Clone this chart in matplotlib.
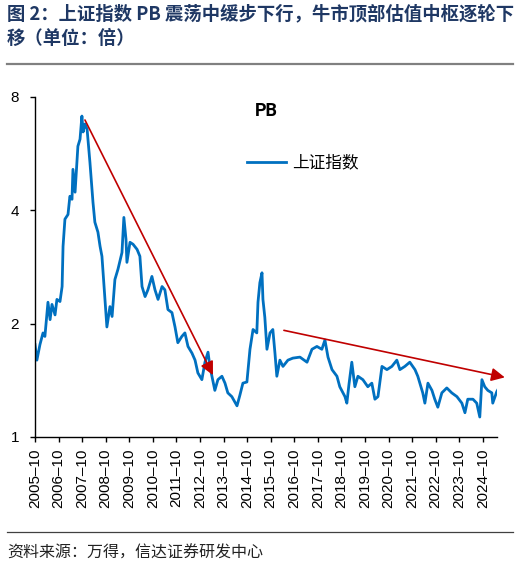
"""SSE Composite PB, 2005-10 to 2025, log2 scale, with trend arrows."""

import matplotlib
matplotlib.use("Agg")
import matplotlib.pyplot as plt
from matplotlib.lines import Line2D

plt.rcParams["font.family"] = ["Liberation Sans", "Noto Sans CJK SC", "DejaVu Sans"]

# decimal year, PB (x)
years = [
    2005.75, 2005.83, 2005.96, 2006.09, 2006.17, 2006.30, 2006.39, 2006.47, 2006.60, 2006.68,
    2006.81, 2006.90, 2006.94, 2007.02, 2007.15, 2007.23, 2007.32, 2007.36, 2007.45, 2007.57,
    2007.66, 2007.74, 2007.79, 2007.87, 2007.96, 2008.08, 2008.21, 2008.29, 2008.42, 2008.51,
    2008.59, 2008.72, 2008.80, 2008.93, 2009.02, 2009.14, 2009.27, 2009.44, 2009.52, 2009.61,
    2009.65, 2009.78, 2009.91, 2010.08, 2010.20, 2010.29, 2010.42, 2010.54, 2010.71, 2010.84,
    2010.97, 2011.14, 2011.26, 2011.39, 2011.56, 2011.69, 2011.81, 2011.98, 2012.11, 2012.24,
    2012.41, 2012.54, 2012.66, 2012.83, 2012.96, 2013.09, 2013.17, 2013.38, 2013.51, 2013.68,
    2013.81, 2013.93, 2014.10, 2014.32, 2014.44, 2014.57, 2014.74, 2014.87, 2015.00, 2015.16,
    2015.21, 2015.29, 2015.38, 2015.42, 2015.50, 2015.59, 2015.72, 2015.84, 2015.93, 2016.01,
    2016.14, 2016.27, 2016.48, 2016.69, 2016.99, 2017.29, 2017.50, 2017.71, 2017.92, 2018.05,
    2018.18, 2018.35, 2018.56, 2018.68, 2018.90, 2018.98, 2019.07, 2019.19, 2019.32, 2019.45,
    2019.66, 2019.87, 2020.04, 2020.17, 2020.30, 2020.47, 2020.68, 2020.89, 2021.10, 2021.23,
    2021.44, 2021.65, 2021.87, 2021.99, 2022.20, 2022.29, 2022.42, 2022.59, 2022.71, 2022.84,
    2023.01, 2023.22, 2023.43, 2023.65, 2023.86, 2023.99, 2024.11, 2024.33, 2024.49, 2024.62,
    2024.71, 2024.83, 2024.96, 2025.13, 2025.17, 2025.34, 2025.43,
]
pb = [
    1.76, 1.60, 1.76, 1.89, 1.85, 2.28, 2.05, 2.25, 2.11, 2.32,
    2.29, 2.51, 3.21, 3.79, 3.90, 4.36, 4.28, 5.14, 4.47, 5.92,
    6.18, 7.12, 6.46, 6.78, 6.57, 5.37, 4.20, 3.72, 3.50, 3.21,
    3.02, 2.32, 1.96, 2.22, 2.09, 2.62, 2.79, 3.09, 3.83, 3.35,
    2.91, 3.29, 3.25, 3.15, 3.02, 2.51, 2.36, 2.46, 2.67, 2.46,
    2.32, 2.51, 2.46, 2.18, 2.14, 1.96, 1.78, 1.85, 1.89, 1.74,
    1.67, 1.60, 1.48, 1.42, 1.58, 1.68, 1.54, 1.33, 1.42, 1.45,
    1.39, 1.31, 1.28, 1.21, 1.29, 1.39, 1.40, 1.71, 1.93, 1.89,
    2.28, 2.57, 2.73, 2.32, 2.08, 1.71, 1.89, 1.93, 1.67, 1.45,
    1.60, 1.54, 1.60, 1.62, 1.63, 1.58, 1.71, 1.74, 1.71, 1.81,
    1.63, 1.51, 1.45, 1.36, 1.28, 1.23, 1.38, 1.58, 1.36, 1.45,
    1.42, 1.36, 1.39, 1.26, 1.28, 1.54, 1.51, 1.54, 1.60, 1.51,
    1.54, 1.58, 1.51, 1.45, 1.31, 1.23, 1.39, 1.33, 1.26, 1.20,
    1.31, 1.35, 1.31, 1.28, 1.23, 1.16, 1.26, 1.26, 1.23, 1.13,
    1.42, 1.36, 1.33, 1.31, 1.23, 1.32, 1.35,
]

tick_years = list(range(2005, 2025))
tick_labels = [f"{y}\u201310" for y in tick_years]

BLUE = "#0070C0"
RED = "#C00000"
NAVY = "#1F3864"

fig = plt.figure(figsize=(5.19, 5.72), dpi=100)
ax = fig.add_axes([35 / 519, 1 - 437 / 572, 462 / 519, 340 / 572])

ax.plot(years, pb, color=BLUE, lw=2.0, label="上证指数")

ax.set_yscale("log", base=2)
ax.set_ylim(1, 8)
ax.set_yticks([1, 2, 4, 8])
ax.set_yticklabels(["1", "2", "4", "8"])
ax.yaxis.set_minor_locator(matplotlib.ticker.NullLocator())

ax.set_xlim(2005.75, 2025.35)
ax.set_xticks([y + 0.75 for y in tick_years])
ax.set_xticklabels(tick_labels, rotation=90)

for side in ("top", "right"):
    ax.spines[side].set_visible(False)
for side in ("left", "bottom"):
    ax.spines[side].set_linewidth(1.0)
ax.tick_params(axis="both", direction="out", length=3.5, width=1.0, labelsize=11)
ax.tick_params(axis="y", pad=8)
ax.tick_params(axis="x", pad=5)

# trend arrows
arrow = dict(arrowstyle="-|>", color=RED, lw=1.2, mutation_scale=20, shrinkA=0, shrinkB=0)
ax.annotate("", xy=(2013.30, 1.46), xytext=(2007.87, 6.95), arrowprops=arrow)
ax.annotate("", xy=(2025.68, 1.44), xytext=(2016.31, 1.92), arrowprops=arrow,
            annotation_clip=False)

ax.text(0.5, 0.96, "PB", transform=ax.transAxes, ha="center", va="center",
        fontsize=13, fontweight="bold", family=["Roboto", "DejaVu Sans"])
ax.legend(loc="center left", bbox_to_anchor=((247 - 35) / 462, 0.806), frameon=False,
          borderaxespad=0, borderpad=0, handlelength=2.35, handletextpad=0.35,
          prop={"family": ["Noto Sans CJK SC"], "size": 12})

# title, rules and source
fig.text(0.0135, 1 - 14 / 572, "图 2：上证指数 PB 震荡中缓步下行，牛市顶部估值中枢逐轮下",
         fontsize=13.2, fontweight="bold", color=NAVY, va="center",
         family=["Noto Sans CJK SC", "DejaVu Sans"])
fig.text(0.0135, 1 - 38 / 572, "移（单位：倍）", fontsize=13.2, fontweight="bold",
         color=NAVY, va="center", family=["Noto Sans CJK SC", "DejaVu Sans"])
fig.add_artist(Line2D([7 / 519, 513 / 519], [1 - 64 / 572] * 2, color="#808080", lw=1.6))
fig.add_artist(Line2D([7 / 519, 513 / 519], [1 - 532 / 572] * 2, color="#404040", lw=0.9))
fig.text(0.0135, 1 - 553 / 572, "资料来源：万得，信达证券研发中心", fontsize=11.5,
         style="italic", va="center", color="#222222",
         family=["Noto Sans CJK SC", "DejaVu Sans"])

fig.savefig("out.png", dpi=100)
